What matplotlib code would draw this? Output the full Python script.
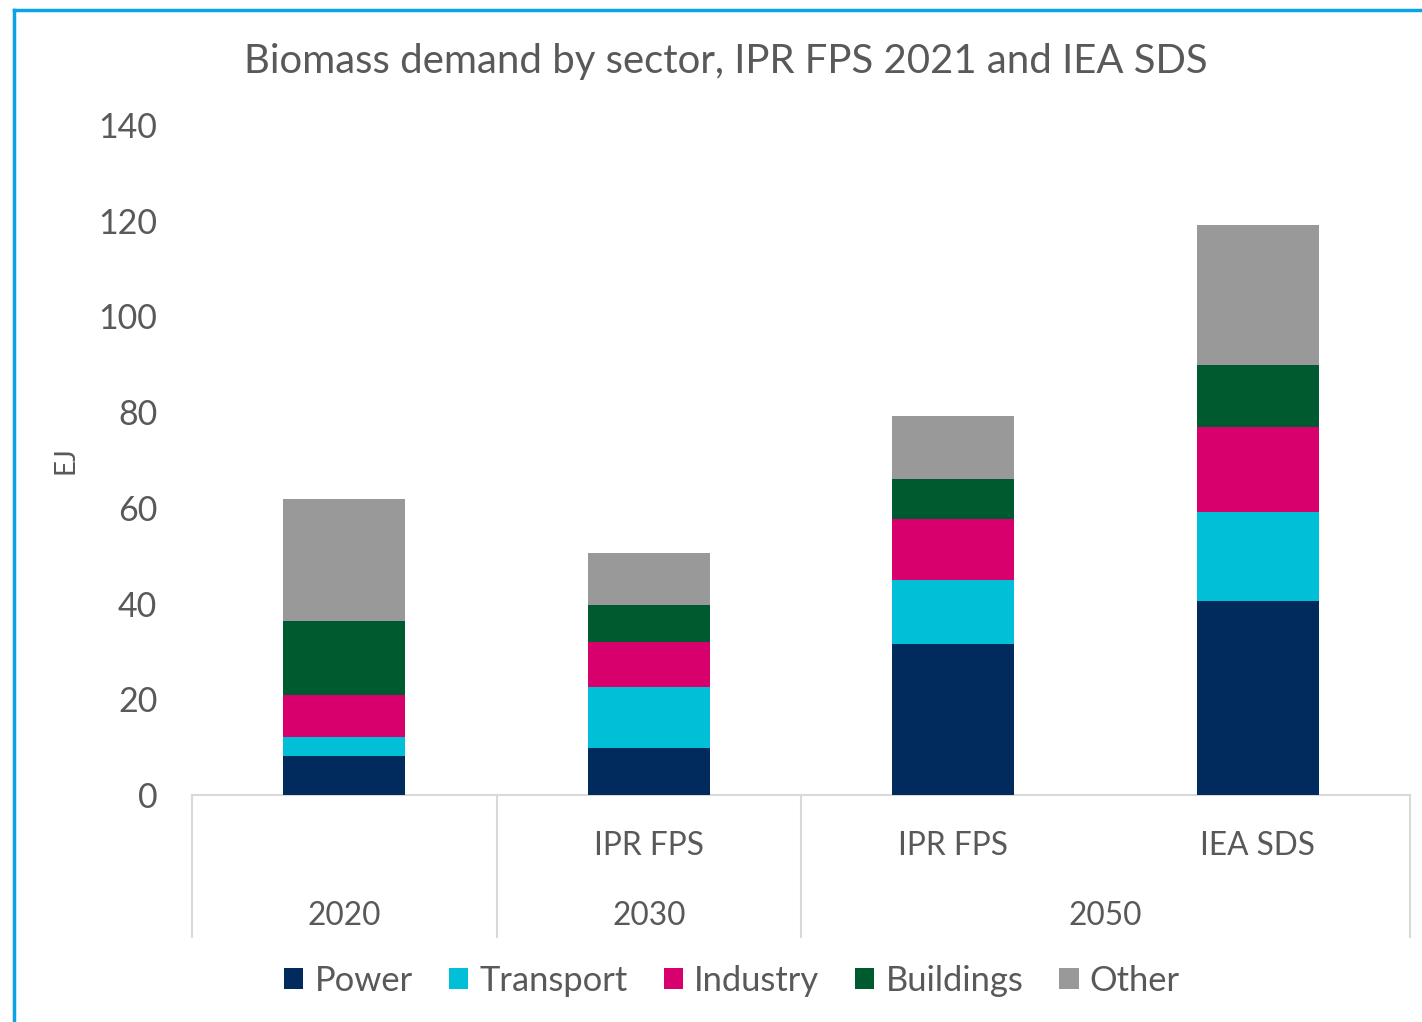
import matplotlib
matplotlib.use("Agg")
import matplotlib.pyplot as plt
from matplotlib.lines import Line2D
from matplotlib.patches import Patch
import numpy as np

plt.rcParams['font.family'] = ['Lato', 'DejaVu Sans']

sub_labels = ["", "IPR FPS", "IPR FPS", "IEA SDS"]
year_labels = ["2020", "2030", "2050"]
year_spans = [(0, 0), (1, 1), (2, 3)]
sectors = ["Power", "Transport", "Industry", "Buildings", "Other"]
power = [8.1, 9.8, 31.5, 40.5]
transport = [4.0, 12.8, 13.4, 18.6]
industry = [8.8, 9.4, 12.8, 17.8]
buildings = [15.5, 7.7, 8.3, 12.9]
other = [25.4, 10.9, 13.2, 29.3]
colors = ["#002B5C", "#00BFD6", "#D7006C", "#005A30", "#999999"]

W, H = 1422, 1022
fig = plt.figure(figsize=(W / 100, H / 100), dpi=100)
ax = fig.add_axes([192 / W, 1 - 795 / H, (1410 - 192) / W, (795 - 125) / H])

x = np.arange(len(sub_labels))
bottom = np.zeros(len(x))
for vals, c, name in zip([power, transport, industry, buildings, other], colors, sectors):
    ax.bar(x, vals, width=0.4, bottom=bottom, color=c, label=name, zorder=3)
    bottom += np.array(vals)

ax.set_xlim(-0.5, 3.5)
ax.set_ylim(0, 140)
ax.set_yticks(range(0, 141, 20))
txt = "#595959"
ax.tick_params(axis='y', length=0, labelsize=24.5, colors=txt, pad=25)
ax.tick_params(axis='x', length=0)
ax.set_xticks([])
for s in ["top", "right", "left"]:
    ax.spines[s].set_visible(False)
ax.spines["bottom"].set_color("#D9D9D9")
ax.spines["bottom"].set_linewidth(1.5)
ax.set_ylabel("EJ", fontsize=20, color=txt, labelpad=14)

# multi-level category axis
trans = ax.get_xaxis_transform()
sep_bottom = -(937 - 795) / (795 - 125)
for xs in [-0.5, 0.5, 1.5, 3.5]:
    ax.add_line(Line2D([xs, xs], [0, sep_bottom], transform=trans, color="#D9D9D9",
                       lw=1.5, clip_on=False))
y_sub = -(846 - 795) / (795 - 125)
y_year = -(916 - 795) / (795 - 125)
for xi, lab in zip(x, sub_labels):
    ax.text(xi, y_sub, lab, transform=trans, ha="center", va="center", fontsize=22.8, color=txt)
for (a, b), lab in zip(year_spans, year_labels):
    ax.text((a + b) / 2, y_year, lab, transform=trans, ha="center", va="center", fontsize=22.8, color=txt)

fig.text(726 / W, 1 - 61 / H, "Biomass demand by sector, IPR FPS 2021 and IEA SDS",
         ha="center", va="center", fontsize=28.9, color=txt)

handles = [Patch(facecolor=c, label=n) for c, n in zip(colors, sectors)]
fig.legend(handles=handles, loc="center", bbox_to_anchor=(732 / W, 1 - 981 / H), ncol=5,
           frameon=False, fontsize=24.8, labelcolor=txt, handlelength=0.56, handleheight=0.56,
           handletextpad=0.32, columnspacing=1.05)

# chart border (left and top visible)
fig.add_artist(Line2D([13.5 / W, 13.5 / W], [0, 1 - 10.5 / H], transform=fig.transFigure,
                      color="#0AA3E6", lw=2.5))
fig.add_artist(Line2D([13.5 / W, 1], [1 - 10.5 / H, 1 - 10.5 / H], transform=fig.transFigure,
                      color="#0AA3E6", lw=2.5))

fig.savefig("out.png", dpi=100)
